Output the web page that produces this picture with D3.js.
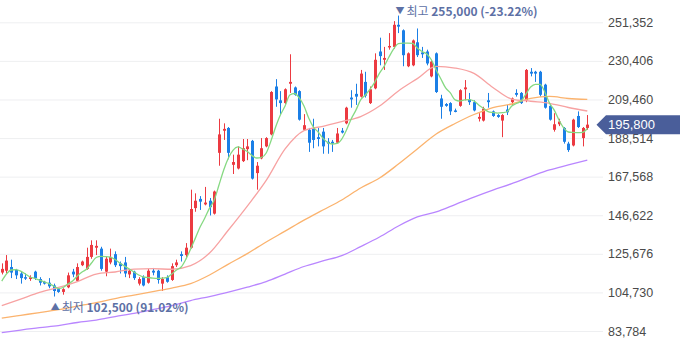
<!DOCTYPE html>
<html><head><meta charset="utf-8">
<script src="https://cdn.jsdelivr.net/npm/d3@7"></script>
<style>body{margin:0;background:#fff;}svg{display:block;}</style>
</head><body><svg id="c" width="680" height="358"></svg>
<script>
// Daily OHLC (KRW)
const opens=[115500,116500,118500,117000,115000,113000,112000,116000,112000,110500,110000,108500,106500,105000,107500,116000,111000,119500,117500,124000,129000,128500,116000,121000,125500,120500,121000,114500,116000,109500,113000,110000,116500,116500,109500,113000,111500,119500,125500,125000,129000,150500,155500,152500,154500,147500,180500,192500,194000,174000,172000,176000,182500,187000,169500,177500,184000,190500,216500,209000,207500,218000,216000,214000,193000,193000,194000,189000,192000,186500,186500,186000,192500,196500,210500,212500,211000,219000,207500,215500,235500,231000,238000,238000,250000,247000,227500,228000,240500,235000,235500,222000,234500,210000,207000,207500,203500,206000,215000,209500,208000,199000,198000,209000,203000,201000,198000,204000,208000,213000,213000,209000,224500,224500,224500,217500,206000,193000,196000,194000,185500,184500,200500,188500,194000];
const highs=[120500,125000,122500,117500,116000,115000,114000,116500,113000,111000,112500,109500,107000,107000,115500,117500,120500,122000,129000,133000,133000,129500,124000,128500,127000,121500,124000,117500,116500,113000,114000,117500,118000,117000,113000,114000,120500,122500,127000,131500,160500,158500,157000,162000,156000,160000,199000,196500,194500,179500,184000,188000,188000,187500,175500,188500,189000,214000,220500,214000,215500,234000,216500,214500,201500,194000,199000,194000,194000,188500,187500,194000,194000,205500,214500,218000,225500,224500,216500,234500,243000,238000,245500,252000,255000,247500,235000,242000,248000,238000,236500,231000,235000,212000,207500,208000,204500,215000,220000,213000,209000,202000,205500,213000,203500,201500,201500,206500,210500,215000,213500,226000,226500,225000,225000,218000,206500,202000,199000,194500,186500,199000,203000,194500,201000];
const lows=[114500,115000,112500,112000,109500,111500,111000,111500,108500,109000,107000,102500,104500,103500,107000,113000,110500,119000,117000,123000,125000,116500,113500,120000,118500,115000,113000,112500,111500,108500,108000,109500,114000,109500,105500,110000,111000,118500,121500,124000,128500,148500,149500,152000,146500,147000,173500,187500,177000,169000,171500,175500,176500,166000,160500,177000,183500,190000,205500,201000,207000,213000,211500,198000,192500,181000,183000,184000,180000,180000,181000,185500,191000,196000,205000,206500,210500,210500,207000,215000,228000,225500,236500,237000,245500,227500,227000,227500,232500,232000,228000,221500,213000,199000,205500,201000,202500,205500,209000,206500,203000,197500,197500,205000,200000,199500,189000,201000,206500,211000,207000,208000,222000,219000,211000,204500,198000,192000,195000,185500,181000,184000,194000,184000,193000];
const closes=[117500,122000,115500,114000,112500,112500,113000,112500,110000,109500,108000,105500,105000,106500,114000,114500,118500,121500,124000,130500,130000,117500,123000,124000,119500,119000,115000,116500,112500,112000,108500,116500,115500,111500,112000,110500,119000,121000,124500,129000,150000,154500,154000,153500,151000,159500,190500,193500,180500,175500,179500,183000,184000,166500,173500,183000,188500,213500,209500,207500,215000,219000,212000,198500,195500,186000,187500,188000,184000,185500,185500,191000,191500,205000,209500,211000,223500,211500,215000,231000,233000,232000,238500,250000,249000,233500,234500,241500,233500,234000,229000,230000,213500,205500,206000,203000,203000,214500,216000,208000,203500,200000,204500,208000,200500,200000,201000,202500,210000,212000,207500,225500,223500,223500,212000,205000,198500,196000,197500,186500,182000,198500,194500,194000,195800];
// Moving averages
const ma5=[110900,114700,116900,117100,116300,114700,113100,112300,111400,110500,109500,108200,106800,107400,109300,110900,113600,115800,117400,120700,123700,124300,124200,123900,122600,120700,119000,117400,115800,114200,113100,112800,112500,112400,112500,112900,114700,116900,118500,122800,128300,134200,140200,145100,150500,154900,163000,171200,177700,182000,183700,182600,181200,179000,177700,178000,180400,186900,194500,201000,205900,211900,212700,210300,205900,199400,194500,191800,188500,186100,185300,185600,188000,192900,198900,203700,209200,211900,215100,218900,223800,227600,232500,236900,239800,240100,240100,239900,237400,235500,234100,230900,225500,220600,215700,213000,209200,208600,209200,209400,208600,206500,204700,202900,202400,202100,202300,202800,205900,207300,208600,212400,216200,217700,217700,213500,207500,203700,198300,194000,191800,191600,191500,191600,193700];
const maIdx=[0,4,8,12,16,20,24,28,32,36,40,44,48,52,56,60,64,68,72,76,80,84,88,92,96,100,104,108,112,116,120,124];
const ma20=[97600,101100,104700,107400,110600,114700,115800,117400,117600,117300,119300,126100,138600,151600,165500,182600,192600,194900,197500,200200,205900,214100,220800,227400,226500,223600,216000,209700,208500,207400,205100,203200];
const ma60=[90800,92300,93800,95400,97300,99200,101400,103300,105200,107100,109500,114200,120100,125800,132100,138000,144000,149450,154900,161400,166800,174400,182600,190700,196400,201300,205100,207000,210000,211100,210000,209500];
const ma120=[82900,84300,85600,86700,88400,89700,91600,93400,95400,97600,100300,102500,104900,107600,110600,114700,118800,121800,124700,129600,134800,140800,145700,148400,152400,156500,160300,163800,167600,171200,173900,176600];
const yTicks=[83784,104730,125676,146622,167568,188514,209460,230406,251352];

const svg=d3.select('#c');
const n=closes.length;
const x=d3.scaleLinear().domain([0,n-1]).range([1.76,587.3]);
const y=d3.scaleLinear().domain([83784,251352]).range([331,22.3]);
const fmt=d3.format(',');
const UP='#ec3a41', DOWN='#1b7fe6';

// grid + axis
const ax=svg.append('g').attr('transform','translate(603,0)')
  .call(d3.axisRight(y).tickValues(yTicks).tickSize(-603).tickPadding(5).tickFormat(fmt));
ax.select('.domain').remove();
ax.selectAll('line').attr('stroke','#eeeff1');
ax.selectAll('text').attr('fill','#4a4a4a').style('font-family','"Liberation Sans",Arial,sans-serif').style('font-size','12.5px');

// candles
const cg=svg.append('g');
d3.range(n).forEach(i=>{
  const up=closes[i]>=opens[i];
  const col=up?UP:DOWN;
  const cx=Math.round(x(i));
  cg.append('line').attr('x1',cx+0.5).attr('x2',cx+0.5)
    .attr('y1',y(highs[i])).attr('y2',y(lows[i])).attr('stroke',col).attr('stroke-width',1);
  const t=y(Math.max(opens[i],closes[i])), b=y(Math.min(opens[i],closes[i]));
  cg.append('rect').attr('x',cx-1).attr('width',3).attr('y',t).attr('height',Math.max(1.5,b-t)).attr('fill',col);
});

// moving averages
const lineFull=d3.line().x((d,i)=>x(i)).y(d=>y(d)).curve(d3.curveMonotoneX);
const lineSparse=d3.line().x(d=>x(d[0])).y(d=>y(d[1])).curve(d3.curveMonotoneX);
const mg=svg.append('g').attr('fill','none').attr('stroke-width',1.3);
mg.append('path').attr('d',lineSparse(maIdx.map((k,j)=>[k,ma120[j]]))).attr('stroke','#b986ff');
mg.append('path').attr('d',lineSparse(maIdx.map((k,j)=>[k,ma60[j]]))).attr('stroke','#fbb36e');
mg.append('path').attr('d',lineSparse(maIdx.map((k,j)=>[k,ma20[j]]))).attr('stroke','#f7a2a2');
mg.append('path').attr('d',lineFull(ma5)).attr('stroke','#86d982');

// high / low markers
const last=closes[n-1];
const hi=d3.max(highs), hiI=highs.indexOf(hi);
const lo=d3.min(lows), loI=lows.indexOf(lo);
const pct=v=>{const p=(last-v)/v*100;return (p>0?'':'')+p.toFixed(2)+'%';};
const lblFont='"Noto Sans CJK KR","Noto Sans",sans-serif';
function marker(i,v,txt,tri,dy){
  const g=svg.append('g').attr('transform',`translate(${x(i)},${y(v)+dy})`);
  const t=g.append('text').attr('x',-3).attr('y',0).attr('dominant-baseline','central')
    .style('font-family',lblFont).style('font-size','12px').attr('fill','#5d70a5');
  t.append('tspan').text(tri+' ').style('font-size','9px');
  t.append('tspan').text(txt[0]+' ');
  t.append('tspan').text(txt[1]).style('font-weight','bold');
}
marker(hiI,hi,['최고',fmt(hi)+' ('+pct(hi)+')'],'▼',-6);
marker(loI,lo,['최저',fmt(lo)+' ('+pct(lo)+')'],'▲',9.5);

// current price tag
const cy=y(last);
const tag=svg.append('g');
tag.append('path').attr('d',`M596.5,${cy} L606,${cy-9.5} L680,${cy-9.5} L680,${cy+9.5} L606,${cy+9.5} Z`).attr('fill','#4a5e9a');
tag.append('text').attr('x',608).attr('y',cy).attr('dominant-baseline','central').attr('fill','#fff')
  .style('font-family','"Liberation Sans",Arial,sans-serif').style('font-size','13px').text(fmt(last));
</script></body></html>
